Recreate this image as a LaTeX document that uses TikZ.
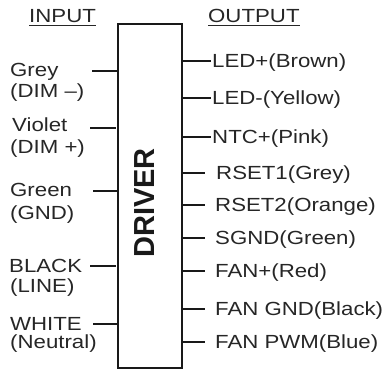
\documentclass[tikz,border=0pt]{standalone}
\usepackage{fontspec}
\setmainfont{Liberation Sans}
\newcommand{\wt}[1]{\scalebox{1.17}[1]{#1}}
\tikzset{
  pinline/.style={line width=1.8pt, draw=black!90},
  lbl/.style={inner sep=0pt, text=black!85, font=\fontsize{19}{22}\selectfont},
  hdr/.style={inner sep=0pt, text=black!85, font=\fontsize{19}{22}\selectfont, anchor=base west},
  drvbox/.style={draw=black!90, line width=1.5pt, minimum width=64pt, minimum height=344pt, inner sep=0pt}
}
\begin{document}
\begin{tikzpicture}[x=1pt,y=-1pt]
\useasboundingbox (0,0) rectangle (388,369);
% box
\node[drvbox] (box) at (150,196) {};
\node[rotate=90, inner sep=0pt, font=\fontsize{29}{30}\selectfont\bfseries, text=black!90] (drv) at (145,203) {DRIVER};
% headers
\node[hdr] (in) at (29,23) {\wt{INPUT}};
\draw[line width=1.3pt, black!85] (in.west |- 0,25.5) -- (in.east |- 0,25.5);
\node[hdr] (out) at (208,23) {\wt{OUTPUT}};
\draw[line width=1.3pt, black!85] (out.west |- 0,25.5) -- (out.east |- 0,25.5);
% inputs
\coordinate (i1) at (92,71);
\coordinate (i2) at (90,128);
\coordinate (i3) at (93,191);
\coordinate (i4) at (90,266);
\coordinate (i5) at (93,324);
\draw[pinline] (i1) -- (i1 -| box.west);
\draw[pinline] (i2) -- ++(26,0);
\draw[pinline] (i3) -- (i3 -| box.west);
\draw[pinline] (i4) -- ++(26,0);
\draw[pinline] (i5) -- (i5 -| box.west);
\node[lbl, anchor=base west] (l1a) at (10,77) {\wt{Grey}};
\node[lbl, anchor=base west] (l1b) at (10,97) {\wt{(DIM –)}};
\node[lbl, anchor=base west] (l2a) at (12,131) {\wt{Violet}};
\node[lbl, anchor=base west] (l2b) at (10,153) {\wt{(DIM +)}};
\node[lbl, anchor=base west] (l3a) at (10,196) {\wt{Green}};
\node[lbl, anchor=base west] (l3b) at (10,219) {\wt{(GND)}};
\node[lbl, anchor=base west] (l4a) at (9,272) {\wt{BLACK}};
\node[lbl, anchor=base west] (l4b) at (10,292) {\wt{(LINE)}};
\node[lbl, anchor=base west] (l5a) at (10,330) {\wt{WHITE}};
\node[lbl, anchor=base west] (l5b) at (10,348) {\wt{(Neutral)}};
% outputs
\foreach \n/\y/\xe/\xt/\t in {
  1/61/211/212/{LED+(Brown)},
  2/98/211/212/{LED-(Yellow)},
  3/137/211/212/{NTC+(Pink)},
  4/173/205/216/{RSET1(Grey)},
  5/205/205/215/{RSET2(Orange)},
  6/238/205/215/{SGND(Green)},
  7/271/205/215/{FAN+(Red)},
  8/309/205/215/{FAN GND(Black)},
  9/342/205/215/{FAN PWM(Blue)}}{
  \coordinate (o\n) at (\xe,\y);
  \draw[pinline] (o\n -| box.east) -- (o\n);
  \node[lbl, anchor=base west] (t\n) at (\xt,\y+6.8) {\wt{\t}};
}
\end{tikzpicture}
\end{document}
